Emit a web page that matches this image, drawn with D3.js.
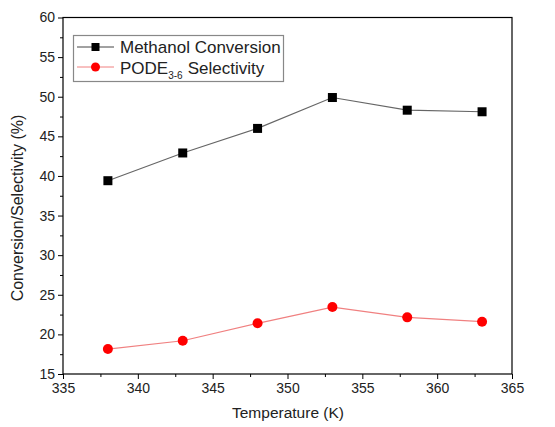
<!DOCTYPE html>
<html><head><meta charset="utf-8">
<script src="https://cdn.jsdelivr.net/npm/d3@7"></script>
<style>body{margin:0;background:#fff}text{font-family:Arial,"Liberation Sans",sans-serif}</style>
</head><body><svg id="c" width="555" height="427"></svg>
<script>
const temperature = [338, 343, 348, 353, 358, 363];
const methanolConversion = [39.4, 42.9, 46.0, 49.9, 48.3, 48.1];
const podeSelectivity = [18.15, 19.2, 21.4, 23.45, 22.15, 21.6];
const xTicks = [335, 340, 345, 350, 355, 360, 365];
const yTicks = [15, 20, 25, 30, 35, 40, 45, 50, 55, 60];

const svg = d3.select("#c");
const m = {l: 63, r: 512, t: 17.5, b: 374};
const x = d3.scaleLinear().domain([335, 365]).range([m.l, m.r]);
const y = d3.scaleLinear().domain([15, 60]).range([m.b, m.t]);

// frame
svg.append("rect").attr("x", m.l).attr("y", m.t).attr("width", m.r - m.l).attr("height", m.b - m.t)
  .attr("fill", "none").attr("stroke", "#000").attr("stroke-width", 1.2);

// minor ticks
const xMinor = d3.range(337.5, 365, 5);
const yMinor = d3.range(17.5, 60, 5);
svg.append("g").attr("transform", `translate(0,${m.b})`)
  .call(d3.axisBottom(x).tickValues(xMinor).tickSize(3).tickFormat(""))
  .call(g => g.select(".domain").remove());
svg.append("g").attr("transform", `translate(${m.l},0)`)
  .call(d3.axisLeft(y).tickValues(yMinor).tickSize(3).tickFormat(""))
  .call(g => g.select(".domain").remove());

const gx = svg.append("g").attr("transform", `translate(0,${m.b})`)
  .call(d3.axisBottom(x).tickValues(xTicks).tickSize(5).tickPadding(4).tickFormat(d3.format("d")));
gx.select(".domain").remove();
gx.selectAll("text").attr("font-size", 14).attr("fill", "#222");
const gy = svg.append("g").attr("transform", `translate(${m.l},0)`)
  .call(d3.axisLeft(y).tickValues(yTicks).tickSize(5).tickPadding(3).tickFormat(d3.format("d")));
gy.select(".domain").remove();
gy.selectAll("text").attr("font-size", 14).attr("fill", "#222");

svg.append("text").attr("x", 288).attr("y", 418).attr("text-anchor", "middle")
  .attr("font-size", 15.5).attr("fill", "#222").text("Temperature (K)");
svg.append("text").attr("transform", `translate(23,208) rotate(-90)`)
  .attr("text-anchor", "middle").attr("font-size", 16).attr("fill", "#222").text("Conversion/Selectivity (%)");

const line = d3.line().x(d => x(d[0])).y(d => y(d[1]));
const s1 = temperature.map((t, i) => [t, methanolConversion[i]]);
const s2 = temperature.map((t, i) => [t, podeSelectivity[i]]);

svg.append("path").datum(s1).attr("d", line).attr("fill", "none").attr("stroke", "#666").attr("stroke-width", 1.2);
svg.append("path").datum(s2).attr("d", line).attr("fill", "none").attr("stroke", "#f08080").attr("stroke-width", 1.2);

svg.selectAll(".sq").data(s1).enter().append("rect")
  .attr("x", d => x(d[0]) - 4.5).attr("y", d => y(d[1]) - 4.5).attr("width", 9).attr("height", 9).attr("fill", "#000");
svg.selectAll(".ci").data(s2).enter().append("circle")
  .attr("cx", d => x(d[0])).attr("cy", d => y(d[1])).attr("r", 5).attr("fill", "#f00");

// legend
const lg = svg.append("g");
lg.append("rect").attr("x", 73.5).attr("y", 35.5).attr("width", 210).attr("height", 46)
  .attr("fill", "#fff").attr("stroke", "#888").attr("stroke-width", 1.2);
lg.append("line").attr("x1", 77).attr("x2", 114).attr("y1", 47).attr("y2", 47).attr("stroke", "#444");
lg.append("rect").attr("x", 91.5).attr("y", 43).attr("width", 8).attr("height", 8).attr("fill", "#000");
lg.append("text").attr("x", 120).attr("y", 53).attr("font-size", 17).attr("fill", "#222").text("Methanol Conversion");
lg.append("line").attr("x1", 77).attr("x2", 114).attr("y1", 67).attr("y2", 67).attr("stroke", "#f08080");
lg.append("circle").attr("cx", 95.5).attr("cy", 67).attr("r", 4.5).attr("fill", "#f00");
const t2 = lg.append("text").attr("x", 120).attr("y", 73.5).attr("font-size", 17).attr("fill", "#222");
t2.append("tspan").text("PODE");
t2.append("tspan").attr("font-size", 10).attr("dy", 5).text("3-6");
t2.append("tspan").attr("dy", -5).attr("dx", 5).text("Selectivity");
</script></body></html>
